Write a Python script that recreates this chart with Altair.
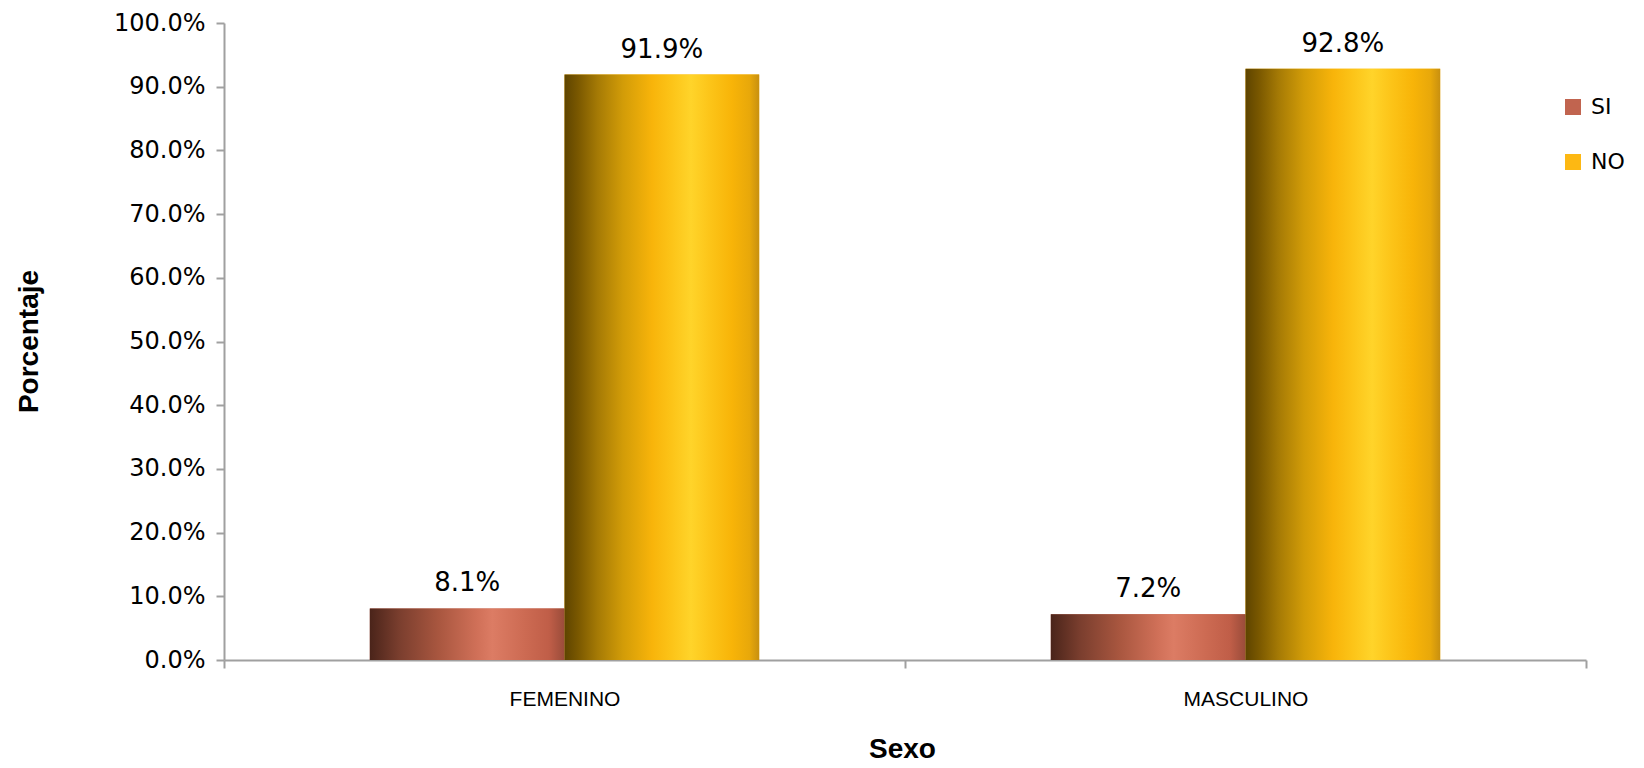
import altair as alt
import pandas as pd

categories = ["FEMENINO", "MASCULINO"]
series = ["SI", "NO"]
si_values = [0.081, 0.072]
no_values = [0.919, 0.928]
y_ticks = [0, 0.1, 0.2, 0.3, 0.4, 0.5, 0.6, 0.7, 0.8, 0.9, 1.0]

rows = []
for i, c in enumerate(categories):
    rows.append({"Sexo": c, "Respuesta": "SI", "Porcentaje": si_values[i]})
    rows.append({"Sexo": c, "Respuesta": "NO", "Porcentaje": no_values[i]})
df = pd.DataFrame(rows)

AXIS_GRAY = "#a0a0a0"
TICK_FONT = "DejaVu Sans"
CAT_FONT = "Liberation Sans Narrow, Liberation Sans"
TITLE_FONT = "Liberation Sans"

x_enc = alt.X(
    "Sexo:N",
    sort=categories,
    scale=alt.Scale(paddingInner=0, paddingOuter=0),
    axis=alt.Axis(
        title="Sexo",
        titleFont=TITLE_FONT,
        titleFontSize=28,
        titleFontWeight="bold",
        titleColor="#000000",
        titleX=678,
        titleY=89,
        titleBaseline="middle",
        labelFont=CAT_FONT,
        labelFontSize=21,
        labelColor="#000000",
        labelAngle=0,
        labelBaseline="middle",
        labelPadding=31,
        tickBand="extent",
        tickSize=8,
        tickWidth=2,
        tickColor=AXIS_GRAY,
        domainColor=AXIS_GRAY,
        domainWidth=2,
        grid=False,
    ),
)

xoff_enc = alt.XOffset(
    "Respuesta:N",
    sort=series,
    scale=alt.Scale(domain=series, paddingInner=0, paddingOuter=0.749),
)

y_enc = alt.Y(
    "Porcentaje:Q",
    scale=alt.Scale(domain=[0, 1], nice=False),
    axis=alt.Axis(
        title="Porcentaje",
        titleFont=TITLE_FONT,
        titleFontSize=28,
        titleFontWeight="bold",
        titleColor="#000000",
        titleX=-195,
        titleY=318,
        titleAngle=-90,
        titleAlign="center",
        titleBaseline="middle",
        values=y_ticks,
        format=".1%",
        labelFont=TICK_FONT,
        labelFontSize=24,
        labelColor="#000000",
        labelPadding=11,
        tickSize=8,
        tickWidth=2,
        tickColor=AXIS_GRAY,
        domainColor=AXIS_GRAY,
        domainWidth=2,
        grid=False,
    ),
)

color_enc = alt.Color(
    "Respuesta:N",
    sort=series,
    scale=alt.Scale(domain=series, range=["#C1644F", "#FDB813"]),
    legend=alt.Legend(
        title=None,
        orient="none",
        legendX=1338,
        legendY=73,
        symbolType="square",
        symbolSize=256,
        symbolStrokeWidth=0,
        symbolOpacity=1,
        labelFont=TICK_FONT,
        labelFontSize=22,
        labelColor="#000000",
        labelOffset=7,
        rowPadding=33,
        padding=0,
    ),
)

base = alt.Chart(df)

solid = base.mark_bar().encode(x=x_enc, xOffset=xoff_enc, y=y_enc, color=color_enc)

si_grad = alt.Gradient(
    gradient="linear", x1=0, x2=1, y1=0, y2=0,
    stops=[
        alt.GradientStop(color="#4a241a", offset=0),
        alt.GradientStop(color="#7a3e2e", offset=0.15),
        alt.GradientStop(color="#a8563f", offset=0.35),
        alt.GradientStop(color="#d07058", offset=0.55),
        alt.GradientStop(color="#dc7c64", offset=0.63),
        alt.GradientStop(color="#cc6a52", offset=0.8),
        alt.GradientStop(color="#c05e48", offset=0.92),
        alt.GradientStop(color="#9a4c3a", offset=1),
    ],
)
no_grad = alt.Gradient(
    gradient="linear", x1=0, x2=1, y1=0, y2=0,
    stops=[
        alt.GradientStop(color="#5e4400", offset=0),
        alt.GradientStop(color="#7a5800", offset=0.07),
        alt.GradientStop(color="#a57a05", offset=0.17),
        alt.GradientStop(color="#d29c08", offset=0.3),
        alt.GradientStop(color="#f8b40a", offset=0.45),
        alt.GradientStop(color="#fcc418", offset=0.55),
        alt.GradientStop(color="#ffd42a", offset=0.65),
        alt.GradientStop(color="#fcc418", offset=0.75),
        alt.GradientStop(color="#f8b408", offset=0.86),
        alt.GradientStop(color="#e8a80a", offset=0.95),
        alt.GradientStop(color="#c89010", offset=1),
    ],
)

si_layer = base.transform_filter(alt.datum.Respuesta == "SI").mark_bar(fill=si_grad).encode(
    x=x_enc, xOffset=xoff_enc, y=y_enc
)
no_layer = base.transform_filter(alt.datum.Respuesta == "NO").mark_bar(fill=no_grad).encode(
    x=x_enc, xOffset=xoff_enc, y=y_enc
)

labels = base.mark_text(
    font=TICK_FONT, fontSize=26, color="#000000", baseline="alphabetic", dy=-17
).encode(
    x=x_enc, xOffset=xoff_enc, y=y_enc,
    text=alt.Text("Porcentaje:Q", format=".1%"),
)

chart = (
    alt.layer(solid, si_layer, no_layer, labels)
    .properties(
        width=1362,
        height=637,
        autosize=alt.AutoSizeParams(type="none"),
        padding={"left": 216, "top": 15, "right": 50, "bottom": 105},
        view=alt.ViewBackground(stroke=None, strokeWidth=0, strokeOpacity=0),
    )
    .configure_view(strokeOpacity=0, strokeWidth=0)
    .configure(background="white")
)

chart.save("out.html", embed_options={"renderer": "svg", "actions": False})
